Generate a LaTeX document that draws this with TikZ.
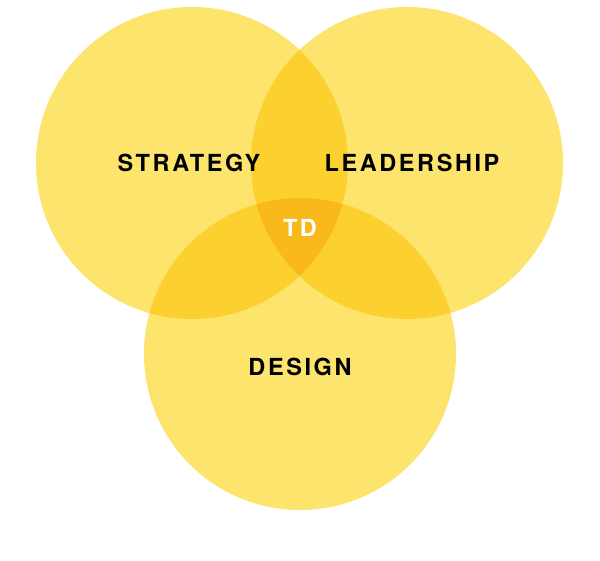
\documentclass[tikz,border=0pt]{standalone}
\usepackage{fontspec}
\setmainfont{TeX Gyre Heros}
\newfontfamily\lblfont[LetterSpace=11]{TeX Gyre Heros}
\definecolor{cone}{HTML}{FDE46C}
\definecolor{ctwo}{HTML}{FCD02E}
\definecolor{cthree}{HTML}{F9B91A}
\begin{document}
\begin{tikzpicture}[x=1pt,y=-1pt,
  lbl/.style={font=\lblfont\bfseries\fontsize{23.5}{26}\selectfont, text=black, inner sep=0pt},
  lblw/.style={lbl, text=white}]
\useasboundingbox (0,0) rectangle (600,560);
\def\cL{(192,163) circle (156)}
\def\cR{(407,163) circle (156)}
\def\cB{(300,354) circle (156)}
\fill[cone] \cL; \fill[cone] \cR; \fill[cone] \cB;
\begin{scope}\clip \cL; \fill[ctwo] \cR; \fill[ctwo] \cB; \end{scope}
\begin{scope}\clip \cR; \fill[ctwo] \cB; \end{scope}
\begin{scope}\clip \cL; \clip \cR; \fill[cthree] \cB; \end{scope}
\node[lbl] (strategy) at (189,163) {STRATEGY};
\node[lbl] (leadership) at (412,163) {LEADERSHIP};
\node[lblw] (td) at (300,228) {TD};
\node[lbl] (design) at (300,367) {DESIGN};
\end{tikzpicture}
\end{document}
